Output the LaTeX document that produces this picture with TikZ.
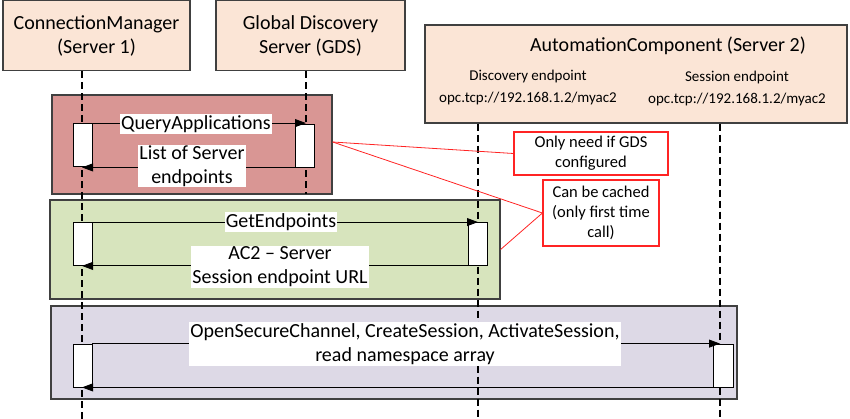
\documentclass[tikz,border=0pt]{standalone}
\usepackage{fontspec}
\setmainfont{Carlito}
\usetikzlibrary{arrows.meta}
\definecolor{peach}{HTML}{FBE5D6}
\definecolor{rosebox}{HTML}{D99694}
\definecolor{greenbox}{HTML}{D7E4BD}
\definecolor{lilacbox}{HTML}{DDD9E6}
\definecolor{framegray}{HTML}{404040}
\definecolor{noteline}{HTML}{FF2424}

\begin{document}
\begin{tikzpicture}[x=1pt, y=-1pt, >={Triangle[length=11pt,width=8pt]},
	head/.style={draw=framegray, line width=1.2pt, fill=peach, inner sep=0pt, align=center, font=\fontsize{20}{24}\selectfont},
	group/.style={draw=framegray, line width=1.2pt, inner sep=0pt},
	life/.style={line width=1.1pt, dash pattern=on 7pt off 4pt},
	act/.style={draw, fill=white, line width=0.8pt, minimum width=19pt, minimum height=43pt, inner sep=0pt},
	msg/.style={fill=white, inner sep=1pt, align=center, font=\fontsize{20}{24}\selectfont},
	note/.style={draw=noteline, line width=1.2pt, fill=white, inner sep=0pt, align=center, font=\fontsize{16.5}{20}\selectfont},
	ep/.style={font=\fontsize{15}{22}\selectfont, align=center}]
	\useasboundingbox (0,0) rectangle (850,419);
	% participants
	\node[head, minimum width=187pt, minimum height=70pt] (cm) at (96.5,35.5) {ConnectionManager\\(Server 1)};
	\node[head, minimum width=189pt, minimum height=70pt] (gds) at (310.5,35.5) {Global Discovery\\Server (GDS)};
	\node[head, minimum width=422pt, minimum height=98pt] (ac) at (636,74) {};
	\node[font=\fontsize{20}{24}\selectfont] (acTitle) at (668,46) {AutomationComponent (Server 2)};
	\node[ep] (discEp) at (528,88) {Discovery endpoint\\opc.tcp://192.168.1.2/myac2};
	\node[ep] (sessEp) at (737,88.5) {Session endpoint\\opc.tcp://192.168.1.2/myac2};
	% groups
	\node[group, fill=rosebox, minimum width=280pt, minimum height=99pt] (rose) at (192,144.5) {};
	\node[group, fill=greenbox, minimum width=450pt, minimum height=99pt] (green) at (275,249.5) {};
	\node[group, fill=lilacbox, minimum width=686pt, minimum height=93pt] (lilac) at (394,352.5) {};
	% lifelines
	\coordinate (cmLine) at (82,419);
	\coordinate (gdsLine) at (306,194);
	\coordinate (discLine) at (478,419);
	\coordinate (sessLine) at (720,419);
	\draw[life] (cm.south -| cmLine) -- (cmLine);
	\draw[life] (gds.south -| gdsLine) -- (gdsLine);
	\draw[life] (ac.south -| discLine) -- (discLine);
	\draw[life] (ac.south -| sessLine) -- (sessLine);
	% activations
	\node[act] (cmA1) at (82.5,145) {};
	\node[act] (gdsA1) at (304.5,145.5) {};
	\node[act] (cmA2) at (82.5,244) {};
	\node[act] (acA2) at (477.5,244) {};
	\node[act] (cmA3) at (82.5,365.5) {};
	\node[act, minimum width=20pt] (acA3) at (723,365.5) {};
	% messages
	\draw[->, line width=0.8pt] (cmA1.north east) -- (cmA1.north east -| gdsLine);
	\draw[->, line width=0.8pt] (gdsA1.south west) -- (gdsA1.south west -| cmLine);
	\draw[->, line width=0.8pt] (cmA2.north east) -- (cmA2.north east -| discLine);
	\draw[->, line width=0.8pt] (acA2.south west) -- (acA2.south west -| cmLine);
	\draw[->, line width=0.8pt] (cmA3.north east) -- (cmA3.north east -| sessLine);
	\draw[->, line width=0.8pt] (acA3.south west) -- (acA3.south west -| cmLine);
	\node[msg] (qa) at (196,124) {QueryApplications};
	\node[msg] (lse) at (192,166) {List of Server\\endpoints};
	\node[msg] (gep) at (281,222) {GetEndpoints};
	\node[msg] (ac2) at (280,267) {AC2 – Server\\Session endpoint URL};
	\node[msg] (osc) at (405,344) {OpenSecureChannel, CreateSession, ActivateSession,\\read namespace array};
	% notes
	\node[note, minimum width=154pt, minimum height=43pt] (gdsNote) at (591,153.5) {Only need if GDS\\configured};
	\node[note, minimum width=116pt, minimum height=66pt] (cacheNote) at (601,213) {Can be cached\\(only first time\\call)};
	\draw[noteline, line width=0.8pt] ([yshift=2.5pt]rose.east) -- (gdsNote.west);
	\draw[noteline, line width=0.8pt] ([yshift=2.5pt]rose.east) -- (cacheNote.west);
	\draw[noteline, line width=0.8pt] (green.east) -- (cacheNote.west);
\end{tikzpicture}
\end{document}
